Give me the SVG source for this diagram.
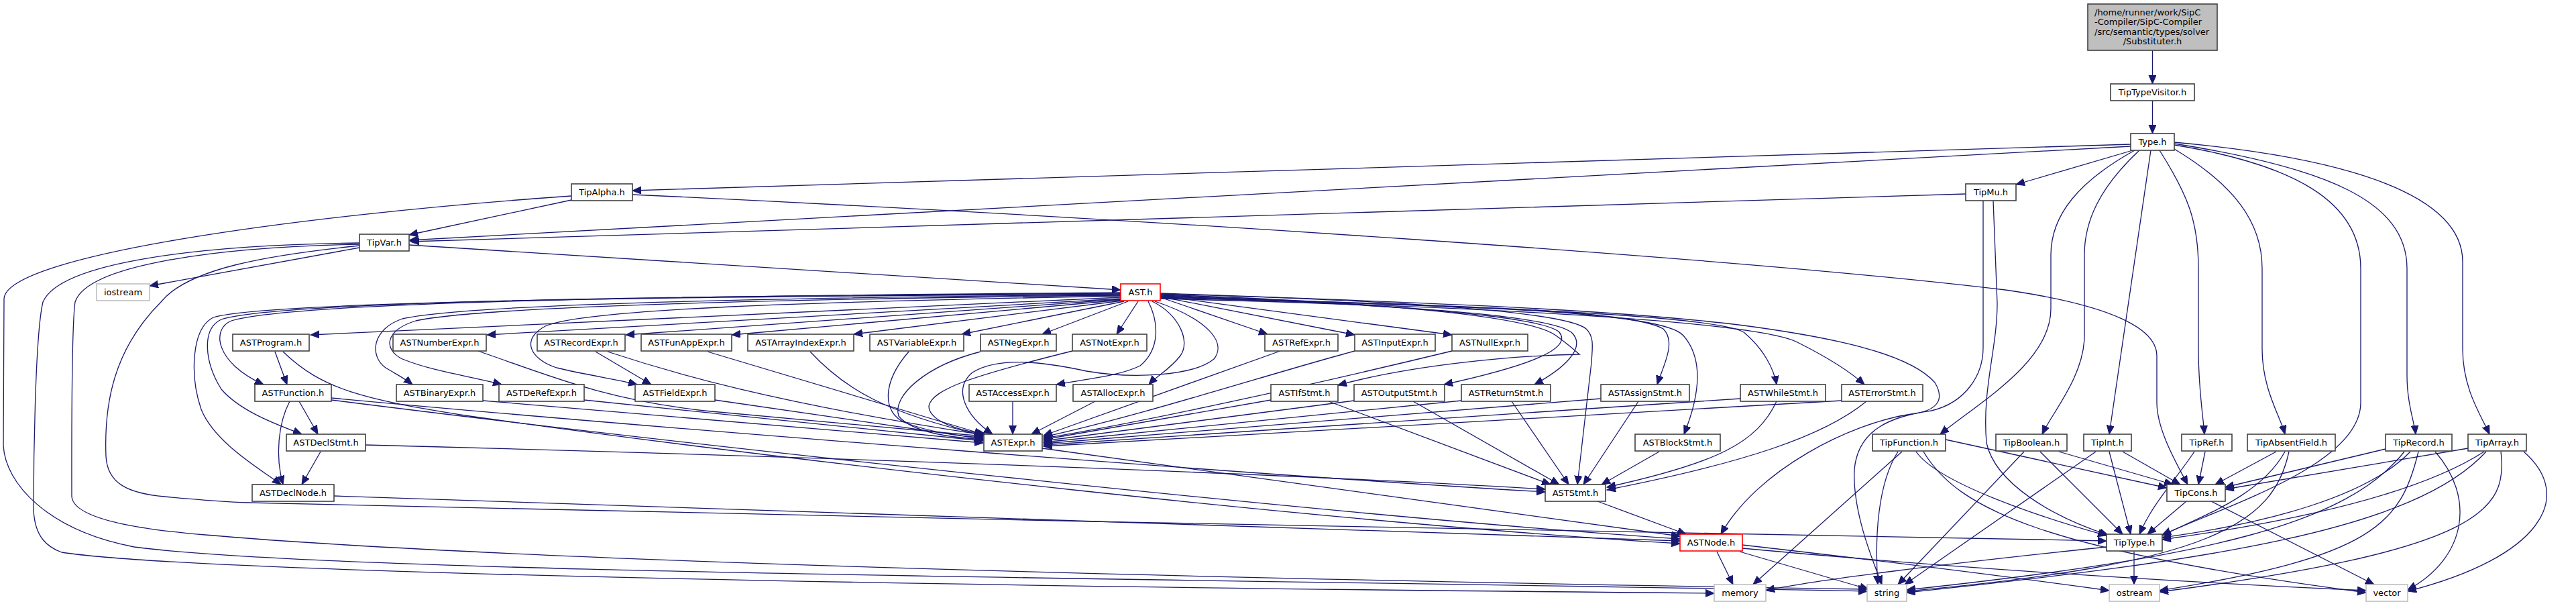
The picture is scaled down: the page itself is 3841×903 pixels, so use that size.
<svg xmlns="http://www.w3.org/2000/svg" width="3841" height="903" viewBox="0 0 3841 903">
<defs>
<marker id="a" markerUnits="userSpaceOnUse" markerWidth="14" markerHeight="12" refX="13" refY="5.5" orient="auto"><path d="M0,0L13,5.5L0,11z" fill="#191970" stroke="#191970" stroke-width="1"/></marker>
<style>
.n rect{fill:#fff;stroke:#404040;stroke-width:1.6}
.g rect{fill:#fff;stroke:#bfbfbf;stroke-width:1.6}
.r rect{fill:#fff;stroke:#ff0000;stroke-width:1.6}
text{font-family:"DejaVu Sans","Liberation Sans",sans-serif;font-size:13px;text-anchor:middle;fill:#000}
#edges path{fill:none;stroke:#191970;stroke-width:1.3;marker-end:url(#a)}
</style>
</defs>
<rect width="3841" height="903" fill="#fff"/>
<g id="edges">
<path d="M3209.5,75 L3209.5,125"/>
<path d="M3209.5,150 L3209.5,199"/>
<path d="M3177,215 L943,284"/>
<path d="M3177,218 L610,358"/>
<path d="M3180,224 L3006,275"/>
<path d="M3183,224 C3100,270 3058,320 3058,380 L3058,460 C3058,540 2950,600 2893,647"/>
<path d="M3190,224 C3130,280 3108,330 3108,380 L3108,500 C3108,560 3060,615 3045,647"/>
<path d="M3207,224 L3145,647"/>
<path d="M3220,224 C3262,290 3278,330 3278,400 L3278,520 C3278,580 3285,620 3287,647"/>
<path d="M3242,222 C3330,275 3373,330 3373,400 L3373,520 C3373,580 3400,620 3407,647"/>
<path d="M3242,216 C3420,245 3520,300 3520,400 L3520,600 C3520,690 3330,750 3224,797"/>
<path d="M3242,214 C3470,250 3589,300 3589,400 L3589,560 C3589,600 3600,630 3602,647"/>
<path d="M3242,212 C3500,235 3672,290 3672,390 L3672,520 C3672,580 3700,620 3712,647"/>
<path d="M852,298 L610,350"/>
<path d="M2931,289 L612,360"/>
<path d="M943,290 C1700,325 2600,385 2990,432 C3150,455 3216,490 3216,530 L3216,600 C3216,640 3245,690 3262,722"/>
<path d="M852,292 C450,320 10,380 6,445 L5,664 C8,720 70,790 200,815 C500,855 1800,862 2784,881"/>
<path d="M610,365 L1671,432"/>
<path d="M536,369 L223,426"/>
<path d="M536,362 C300,365 90,390 64,450 C52,500 50,700 50,760 C52,800 70,815 92,823 C300,855 1500,875 2556,884"/>
<path d="M536,364 C320,368 130,395 112,450 C106,490 107,700 107,740 C110,775 220,790 306,797 C800,840 2000,866 2784,878"/>
<path d="M536,366 C400,380 280,400 240,450 C170,520 155,600 158,680 C160,720 190,735 245,740 C300,745 340,748 370,749 C1200,768 2400,795 3141,806"/>
<path d="M2972,299 L2978,452 C2978,520 2955,580 2962,660 C2975,720 3060,770 3143,797"/>
<path d="M2957,299 L2957,518 C2957,560 2930,600 2880,612 C2820,620 2770,640 2765,700 C2762,760 2790,830 2806,871"/>
<path d="M1671,443 L463,499"/>
<path d="M1671,445 L726,499"/>
<path d="M1671,446 L933,499"/>
<path d="M1672,447 L1091,499"/>
<path d="M1674,448 L1273,498"/>
<path d="M1676,449 L1434,498"/>
<path d="M1682,449 L1554,498"/>
<path d="M1697,449 L1665,498"/>
<path d="M1730,443 L1890,498"/>
<path d="M1730,442 L2020,499"/>
<path d="M1730,441 L2165,499"/>
<path d="M1671,436 C1200,440 450,445 345,478 C315,490 320,540 393,573"/>
<path d="M1671,437 C1200,440 420,445 330,476 C300,490 305,540 330,580 C360,615 420,635 450,647"/>
<path d="M1671,438 C1200,441 400,446 318,473 C285,490 283,560 300,610 C320,660 390,700 419,722"/>
<path d="M1671,439 C1200,443 700,452 600,475 C555,490 550,530 575,548 C595,560 605,565 615,573"/>
<path d="M1671,440 C1200,445 720,456 620,478 C575,492 570,520 600,535 C650,555 710,562 748,573"/>
<path d="M1671,441 C1200,450 880,460 815,485 C775,505 790,535 830,548 C880,560 920,565 950,573"/>
<path d="M1712,449 C1728,480 1730,520 1700,545 C1670,560 1620,565 1575,573"/>
<path d="M1718,449 C1760,470 1775,510 1760,530 C1745,550 1725,560 1713,573"/>
<path d="M1722,449 C1800,475 1830,510 1810,535 C1780,560 1690,565 1620,553 C1560,540 1490,530 1450,555 C1420,580 1440,620 1480,647"/>
<path d="M1730,439 C2050,450 2280,470 2320,500 C2345,518 2352,526 2355,528 C2250,530 2100,545 1995,574"/>
<path d="M1730,440 C2050,452 2300,470 2325,495 C2345,520 2280,545 2153,573"/>
<path d="M1730,441 C2100,455 2320,470 2345,497 C2365,520 2330,550 2288,573"/>
<path d="M1730,438 C2000,445 2330,460 2365,490 C2378,502 2374,520 2373,540 L2352,722"/>
<path d="M1730,442 C2150,455 2430,460 2480,490 C2500,510 2480,545 2471,573"/>
<path d="M1730,443 C2200,455 2480,465 2510,500 C2545,540 2530,600 2511,647"/>
<path d="M1730,444 C2200,455 2560,470 2600,495 C2630,520 2645,550 2649,573"/>
<path d="M1730,445 C2250,458 2620,480 2680,510 C2730,535 2760,555 2780,573"/>
<path d="M1730,437 C2100,450 2400,460 2600,485 C2750,505 2850,530 2885,570 C2900,595 2890,612 2850,617 C2760,630 2620,700 2566,796"/>
<path d="M713,523 C820,560 900,595 1050,612 L1466,650"/>
<path d="M906,524 C1000,555 1150,600 1466,648"/>
<path d="M1055,524 L1466,647"/>
<path d="M1208,524 C1260,580 1320,615 1466,649"/>
<path d="M1355,524 C1315,570 1315,615 1350,630 C1390,645 1430,650 1466,652"/>
<path d="M1462,524 C1380,545 1330,590 1340,620 C1360,645 1420,652 1466,655"/>
<path d="M1599,523 C1450,560 1390,580 1385,605 C1385,625 1420,640 1470,647"/>
<path d="M720,597 L1466,660"/>
<path d="M871,596 L1466,657"/>
<path d="M1066,596 L1466,654"/>
<path d="M1510,598 L1510,647"/>
<path d="M1633,598 L1538,647"/>
<path d="M1909,523 L1556,649"/>
<path d="M2020,523 C1900,555 1700,620 1556,651"/>
<path d="M2165,523 C1950,575 1700,630 1556,653"/>
<path d="M1895,596 L1556,655"/>
<path d="M2019,597 L1556,657"/>
<path d="M2179,597 L1556,659"/>
<path d="M2387,594 L1556,661"/>
<path d="M2595,594 L1556,663"/>
<path d="M2746,597 L1556,665"/>
<path d="M1981,598 L2312,722"/>
<path d="M2107,598 L2325,722"/>
<path d="M2254,598 L2339,722"/>
<path d="M2443,598 L2361,722"/>
<path d="M2474,673 L2388,722"/>
<path d="M2649,598 C2620,660 2560,690 2396,726"/>
<path d="M2783,598 C2720,650 2600,690 2396,730"/>
<path d="M545,663 C1200,680 1900,705 2304,729"/>
<path d="M494,593 C1000,640 1900,710 2304,733"/>
<path d="M2382,747 L2514,796"/>
<path d="M1554,668 L2505,799"/>
<path d="M498,739 L2505,806"/>
<path d="M494,596 C1000,660 2000,770 2505,803"/>
<path d="M422,524 C480,580 540,595 700,620 C1200,690 2000,780 2505,810"/>
<path d="M410,524 L428,573"/>
<path d="M446,598 L474,647"/>
<path d="M432,598 C415,630 410,680 422,722"/>
<path d="M478,673 L450,722"/>
<path d="M888,524 L971,573"/>
<path d="M2560,822 L2584,871"/>
<path d="M2594,822 L2786,878"/>
<path d="M2598,812 C2800,835 3000,860 3145,880"/>
<path d="M2598,817 C2900,845 3200,865 3528,880"/>
<path d="M2901,655 L3231,727"/>
<path d="M2857,673 C2890,720 3040,770 3141,798"/>
<path d="M2836,673 L2614,871"/>
<path d="M2830,673 C2800,720 2795,800 2800,871"/>
<path d="M2868,673 C2920,760 3050,820 3528,883"/>
<path d="M3070,673 L3240,722"/>
<path d="M3042,673 L3165,796"/>
<path d="M3018,673 L2830,871"/>
<path d="M3165,673 L3251,722"/>
<path d="M3145,673 L3177,796"/>
<path d="M3125,673 L2840,871"/>
<path d="M3288,673 L3278,722"/>
<path d="M3272,673 C3240,720 3210,750 3190,796"/>
<path d="M3394,673 L3303,722"/>
<path d="M3407,673 C3370,740 3280,770 3224,798"/>
<path d="M3413,673 C3390,780 3300,840 2843,881"/>
<path d="M3557,669 L3318,726"/>
<path d="M3594,673 C3530,740 3380,780 3224,801"/>
<path d="M3606,673 C3580,780 3540,830 3220,880"/>
<path d="M3631,673 C3690,740 3680,830 3590,879"/>
<path d="M3585,673 C3500,780 3300,830 2843,879"/>
<path d="M3680,668 L3318,729"/>
<path d="M3704,673 C3600,740 3400,780 3224,804"/>
<path d="M3729,673 C3740,760 3700,820 3220,882"/>
<path d="M3763,673 C3840,740 3790,830 3590,881"/>
<path d="M3707,673 C3600,790 3300,835 2843,883"/>
<path d="M3260,747 L3202,796"/>
<path d="M3297,747 L3540,871"/>
<path d="M3182,822 L3182,871"/>
<path d="M3141,815 C2900,840 2700,865 2633,880"/>
</g>
<g id="substituter"><rect x="3113" y="6" width="193" height="69" fill="#bfbfbf" stroke="#404040" stroke-width="1.6"/>
<text x="3123" y="22.5" style="text-anchor:start">/home/runner/work/SipC</text>
<text x="3123" y="37" style="text-anchor:start">-Compiler/SipC-Compiler</text>
<text x="3123" y="51.5" style="text-anchor:start">/src/semantic/types/solver</text>
<text x="3209.5" y="66">/Substituter.h</text></g>
<g id="TipTypeVisitor" class="n"><rect x="3147" y="125" width="125" height="25"/><text x="3209.5" y="142">TipTypeVisitor.h</text></g>
<g id="Type" class="n"><rect x="3177" y="199" width="65" height="25"/><text x="3209.5" y="216">Type.h</text></g>
<g id="TipAlpha" class="n"><rect x="852" y="274" width="91" height="25"/><text x="897.5" y="291">TipAlpha.h</text></g>
<g id="TipMu" class="n"><rect x="2931" y="274" width="75" height="25"/><text x="2968.5" y="291">TipMu.h</text></g>
<g id="TipVar" class="n"><rect x="536" y="349" width="74" height="25"/><text x="573" y="366">TipVar.h</text></g>
<g id="iostream" class="g"><rect x="144" y="423" width="79" height="25"/><text x="183.5" y="440">iostream</text></g>
<g id="AST" class="r"><rect x="1671" y="423" width="59" height="25"/><text x="1700.5" y="440">AST.h</text></g>
<g id="ASTProgram" class="n"><rect x="347" y="498" width="114" height="25"/><text x="404" y="515">ASTProgram.h</text></g>
<g id="ASTNumberExpr" class="n"><rect x="586" y="498" width="139" height="25"/><text x="655.5" y="515">ASTNumberExpr.h</text></g>
<g id="ASTRecordExpr" class="n"><rect x="801" y="498" width="131" height="25"/><text x="866.5" y="515">ASTRecordExpr.h</text></g>
<g id="ASTFunAppExpr" class="n"><rect x="956" y="498" width="135" height="25"/><text x="1023.5" y="515">ASTFunAppExpr.h</text></g>
<g id="ASTArrayIndexExpr" class="n"><rect x="1115" y="498" width="158" height="25"/><text x="1194" y="515">ASTArrayIndexExpr.h</text></g>
<g id="ASTVariableExpr" class="n"><rect x="1297" y="498" width="140" height="25"/><text x="1367" y="515">ASTVariableExpr.h</text></g>
<g id="ASTNegExpr" class="n"><rect x="1462" y="498" width="113" height="25"/><text x="1518.5" y="515">ASTNegExpr.h</text></g>
<g id="ASTNotExpr" class="n"><rect x="1599" y="498" width="111" height="25"/><text x="1654.5" y="515">ASTNotExpr.h</text></g>
<g id="ASTRefExpr" class="n"><rect x="1886" y="498" width="109" height="25"/><text x="1940.5" y="515">ASTRefExpr.h</text></g>
<g id="ASTInputExpr" class="n"><rect x="2020" y="498" width="120" height="25"/><text x="2080" y="515">ASTInputExpr.h</text></g>
<g id="ASTNullExpr" class="n"><rect x="2165" y="498" width="113" height="25"/><text x="2221.5" y="515">ASTNullExpr.h</text></g>
<g id="ASTFunction" class="n"><rect x="380" y="573" width="114" height="25"/><text x="437" y="590">ASTFunction.h</text></g>
<g id="ASTBinaryExpr" class="n"><rect x="591" y="573" width="129" height="25"/><text x="655.5" y="590">ASTBinaryExpr.h</text></g>
<g id="ASTDeRefExpr" class="n"><rect x="744" y="573" width="127" height="25"/><text x="807.5" y="590">ASTDeRefExpr.h</text></g>
<g id="ASTFieldExpr" class="n"><rect x="947" y="573" width="119" height="25"/><text x="1006.5" y="590">ASTFieldExpr.h</text></g>
<g id="ASTAccessExpr" class="n"><rect x="1445" y="573" width="130" height="25"/><text x="1510" y="590">ASTAccessExpr.h</text></g>
<g id="ASTAllocExpr" class="n"><rect x="1600" y="573" width="119" height="25"/><text x="1659.5" y="590">ASTAllocExpr.h</text></g>
<g id="ASTIfStmt" class="n"><rect x="1895" y="573" width="100" height="25"/><text x="1945" y="590">ASTIfStmt.h</text></g>
<g id="ASTOutputStmt" class="n"><rect x="2019" y="573" width="135" height="25"/><text x="2086.5" y="590">ASTOutputStmt.h</text></g>
<g id="ASTReturnStmt" class="n"><rect x="2179" y="573" width="133" height="25"/><text x="2245.5" y="590">ASTReturnStmt.h</text></g>
<g id="ASTAssignStmt" class="n"><rect x="2387" y="573" width="132" height="25"/><text x="2453" y="590">ASTAssignStmt.h</text></g>
<g id="ASTWhileStmt" class="n"><rect x="2595" y="573" width="127" height="25"/><text x="2658.5" y="590">ASTWhileStmt.h</text></g>
<g id="ASTErrorStmt" class="n"><rect x="2746" y="573" width="121" height="25"/><text x="2806.5" y="590">ASTErrorStmt.h</text></g>
<g id="ASTDeclStmt" class="n"><rect x="427" y="647" width="118" height="25"/><text x="486" y="664">ASTDeclStmt.h</text></g>
<g id="ASTExpr" class="n"><rect x="1467" y="647" width="87" height="25"/><text x="1510.5" y="664">ASTExpr.h</text></g>
<g id="ASTBlockStmt" class="n"><rect x="2438" y="647" width="127" height="25"/><text x="2501.5" y="664">ASTBlockStmt.h</text></g>
<g id="TipFunction" class="n"><rect x="2792" y="647" width="109" height="25"/><text x="2846.5" y="664">TipFunction.h</text></g>
<g id="TipBoolean" class="n"><rect x="2976" y="647" width="106" height="25"/><text x="3029" y="664">TipBoolean.h</text></g>
<g id="TipInt" class="n"><rect x="3107" y="647" width="71" height="25"/><text x="3142.5" y="664">TipInt.h</text></g>
<g id="TipRef" class="n"><rect x="3253" y="647" width="75" height="25"/><text x="3290.5" y="664">TipRef.h</text></g>
<g id="TipAbsentField" class="n"><rect x="3351" y="647" width="131" height="25"/><text x="3416.5" y="664">TipAbsentField.h</text></g>
<g id="TipRecord" class="n"><rect x="3557" y="647" width="99" height="25"/><text x="3606.5" y="664">TipRecord.h</text></g>
<g id="TipArray" class="n"><rect x="3680" y="647" width="87" height="25"/><text x="3723.5" y="664">TipArray.h</text></g>
<g id="ASTDeclNode" class="n"><rect x="376" y="722" width="122" height="25"/><text x="437" y="739">ASTDeclNode.h</text></g>
<g id="ASTStmt" class="n"><rect x="2304" y="722" width="90" height="25"/><text x="2349" y="739">ASTStmt.h</text></g>
<g id="TipCons" class="n"><rect x="3231" y="722" width="87" height="25"/><text x="3274.5" y="739">TipCons.h</text></g>
<g id="ASTNode" class="r"><rect x="2505" y="796" width="93" height="25"/><text x="2551.5" y="813">ASTNode.h</text></g>
<g id="TipType" class="n"><rect x="3141" y="796" width="83" height="25"/><text x="3182.5" y="813">TipType.h</text></g>
<g id="memory" class="g"><rect x="2556" y="871" width="77" height="25"/><text x="2594.5" y="888">memory</text></g>
<g id="string" class="g"><rect x="2784" y="871" width="59" height="25"/><text x="2813.5" y="888">string</text></g>
<g id="ostream" class="g"><rect x="3145" y="871" width="75" height="25"/><text x="3182.5" y="888">ostream</text></g>
<g id="vector" class="g"><rect x="3528" y="871" width="62" height="25"/><text x="3559" y="888">vector</text></g>
</svg>
